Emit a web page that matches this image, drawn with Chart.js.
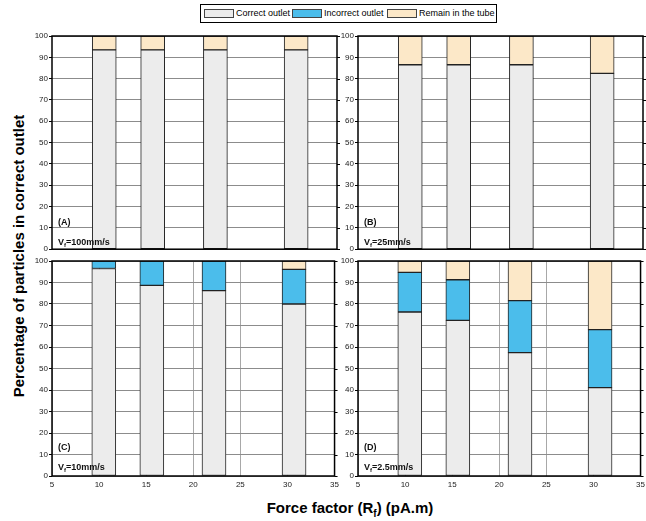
<!DOCTYPE html>
<html>
<head>
<meta charset="utf-8">
<script src="https://cdn.jsdelivr.net/npm/chart.js@4.4.1/dist/chart.umd.min.js"></script>
<style>
  body { margin: 0; background: #fff; font-family: "Liberation Sans", Arial, sans-serif; }
  #page { position: relative; width: 646px; height: 521px; overflow: hidden; }
  canvas { position: absolute; }
  .legend { position: absolute; left: 200px; top: 4px; width: 295px; height: 17px; border: 1px solid #000; font-size: 9px; }
  .legend span { position: absolute; top: 3px; white-space: nowrap; }
  .sw { position: absolute; top: 4px; width: 28px; height: 7px; border: 1px solid #444; }
  .tag { position: absolute; font-weight: bold; font-size: 9px; color: #111; white-space: nowrap; }
  .tag sub { font-size: 6px; vertical-align: -2px; }
  .ytitle { position: absolute; left: 18px; top: 256px; transform: translate(-50%, -50%) rotate(-90deg); font-weight: bold; font-size: 15px; white-space: nowrap; }
  .xtitle { position: absolute; left: 350px; top: 509px; transform: translate(-50%, -50%); font-weight: bold; font-size: 15px; white-space: nowrap; }
  .xtitle sub { font-size: 10px; vertical-align: -4px; }
</style>
</head>
<body>
<div id="page">
  <div class="legend">
    <div class="sw" style="left:3px;background:#ececec"></div><span style="left:35px">Correct outlet</span>
    <div class="sw" style="left:91px;background:#4bbdeb"></div><span style="left:123px">Incorrect outlet</span>
    <div class="sw" style="left:186px;background:#fce8c8"></div><span style="left:218px">Remain in the tube</span>
  </div>
  <div class="ytitle">Percentage of particles in correct outlet</div>
  <div class="xtitle">Force factor (R<sub>f</sub>) (pA.m)</div>
</div>
<script>
// force factor (pA.m) of the four bars
const forceFactor = [10.5, 15.6, 22.2, 30.7];

// (A) Vf = 100 mm/s
const correctA   = [93.5, 93.5, 93.5, 93.5];
const incorrectA = [0, 0, 0, 0];
const remainA    = [6.5, 6.5, 6.5, 6.5];

// (B) Vf = 25 mm/s
const correctB   = [86.5, 86.5, 86.5, 82.5];
const incorrectB = [0, 0, 0, 0];
const remainB    = [13.5, 13.5, 13.5, 17.5];

// (C) Vf = 10 mm/s
const correctC   = [96.5, 88.7, 86.2, 80.0];
const incorrectC = [3.5, 11.3, 13.8, 16.1];
const remainC    = [0, 0, 0, 3.9];

// (D) Vf = 2.5 mm/s
const correctD   = [76.3, 72.4, 57.4, 41.1];
const incorrectD = [18.4, 18.9, 24.2, 27.0];
const remainD    = [5.3, 8.7, 18.4, 31.9];

const xTicks = [5, 10, 15, 20, 25, 30, 35];
const yTicks = [0, 10, 20, 30, 40, 50, 60, 70, 80, 90, 100];

const panels = [
  { id: 'A', speed: '100mm/s', left: 52,  top: 35.7,  xLabels: false, c: correctA, i: incorrectA, r: remainA },
  { id: 'B', speed: '25mm/s',  left: 358, top: 35.7,  xLabels: false, c: correctB, i: incorrectB, r: remainB },
  { id: 'C', speed: '10mm/s',  left: 52,  top: 260.7, xLabels: true,  c: correctC, i: incorrectC, r: remainC },
  { id: 'D', speed: '2.5mm/s', left: 358, top: 260.7, xLabels: true,  c: correctD, i: incorrectD, r: remainD }
];

const PW = 285, PH = 215, YW = 32, PADT = 6, PADR = 6;

// cadre noir autour de la zone de tracé + petits traits à droite
const framePlugin = {
  id: 'frame',
  afterDatasetsDraw(chart) {
    const a = chart.chartArea, ctx = chart.ctx, ys = chart.scales.y;
    ctx.save();
    ctx.strokeStyle = '#000';
    ctx.lineWidth = 1.5;
    ctx.strokeRect(a.left, a.top, a.right - a.left, a.bottom - a.top);
    ctx.lineWidth = 1;
    yTicks.forEach(v => {
      const y = Math.round(ys.getPixelForValue(v)) + 0.5;
      ctx.beginPath();
      ctx.moveTo(a.right, y);
      ctx.lineTo(a.right + 3, y);
      ctx.stroke();
    });
    ctx.restore();
  }
};

function pts(vals) {
  return vals.map((v, k) => ({ x: forceFactor[k], y: v }));
}

const page = document.getElementById('page');

panels.forEach(p => {
  const xh = p.xLabels ? 16 : 4;
  const cv = document.createElement('canvas');
  cv.width = YW + PW + PADR;
  cv.height = PADT + PH + xh;
  cv.style.left = (p.left - YW) + 'px';
  cv.style.top = (p.top - PADT) + 'px';
  page.appendChild(cv);

  const ds = (label, data, color) => ({
    label: label,
    data: pts(data),
    backgroundColor: color,
    borderColor: '#222',
    borderWidth: 1,
    borderSkipped: false,
    barThickness: 24
  });

  new Chart(cv.getContext('2d'), {
    type: 'bar',
    data: {
      datasets: [
        ds('Correct outlet', p.c, '#ececec'),
        ds('Incorrect outlet', p.i, '#4bbdeb'),
        ds('Remain in the tube', p.r, '#fce8c8')
      ]
    },
    options: {
      responsive: false,
      animation: false,
      devicePixelRatio: 1,
      layout: { padding: { top: PADT, right: PADR, left: 0, bottom: 0 } },
      plugins: { legend: { display: false }, tooltip: { enabled: false } },
      scales: {
        x: {
          type: 'linear',
          stacked: true,
          offset: false,
          min: 5, max: 35,
          afterFit: s => { s.height = xh; },
          afterBuildTicks: s => { s.ticks = xTicks.map(v => ({ value: v })); },
          border: { display: false },
          grid: { display: p.xLabels, offset: false, color: '#a8a8a8', drawTicks: false },
          ticks: { display: p.xLabels, padding: 4, color: '#222', font: { family: 'Liberation Sans', size: 8 }, maxRotation: 0 }
        },
        y: {
          stacked: true,
          min: 0, max: 100,
          afterFit: s => { s.width = YW; },
          afterBuildTicks: s => { s.ticks = yTicks.map(v => ({ value: v })); },
          border: { display: false },
          grid: { color: '#8c8c8c', tickLength: 3, tickColor: '#000' },
          ticks: { padding: 1, color: '#222', font: { family: 'Liberation Sans', size: 8 } }
        }
      }
    },
    plugins: [framePlugin]
  });

  const t1 = document.createElement('div');
  t1.className = 'tag';
  t1.style.left = (p.left + 6) + 'px';
  t1.style.top = (p.top + 181) + 'px';
  t1.textContent = '(' + p.id + ')';
  page.appendChild(t1);

  const t2 = document.createElement('div');
  t2.className = 'tag';
  t2.style.left = (p.left + 6) + 'px';
  t2.style.top = (p.top + 201) + 'px';
  t2.innerHTML = 'V<sub>f</sub>=' + p.speed;
  page.appendChild(t2);
});
</script>
</body>
</html>
